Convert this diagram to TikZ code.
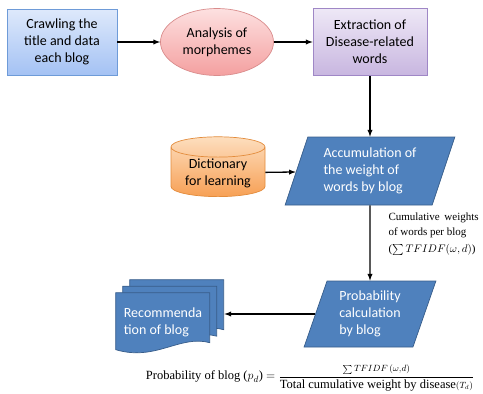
\documentclass[tikz,border=0pt]{standalone}
\usepackage{amsmath}
\usepackage{fontspec}
\setmainfont{Carlito}
\newfontfamily\annfont{Liberation Serif}
\usetikzlibrary{
  positioning, arrows, shapes.geometric
}
\definecolor{flowblue}{HTML}{4F81BD}
\definecolor{flowedge}{HTML}{385D8A}

\begin{document}
\begin{tikzpicture}[x=1pt,y=1pt,node distance=2cm,on grid,
    txt/.style={font=\fontsize{14}{17}\selectfont, align=center, line width=0.7pt},
    box/.style={txt, rectangle, minimum width=110pt, minimum height=66pt},
    io/.style={txt, trapezium, trapezium stretches=true,
      trapezium left angle=71, trapezium right angle=109,
      fill=flowblue, draw=flowedge, text=white, align=left},
    page/.style={fill=flowblue, draw=flowedge, line width=0.7pt},
    flow/.style={-latex, line width=1.3pt},
    note/.style={font=\annfont\fontsize{11}{15}\selectfont, align=left}]
  \useasboundingbox (0,0) rectangle (483,-394);

  \node[box, top color={rgb,255:red,222;green,233;blue,251},
    bottom color={rgb,255:red,164;green,194;blue,244},
    draw={rgb,255:red,110;green,155;blue,216}] (crawl) at (62,-42)
    {Crawling the\\title and data\\each blog};
  \node[txt, ellipse, minimum width=113pt, minimum height=67pt,
    top color={rgb,255:red,253;green,224;blue,224},
    bottom color={rgb,255:red,244;green,160;blue,160},
    draw={rgb,255:red,217;green,140;blue,140}] (morph) [right=155pt of crawl]
    {Analysis of\\morphemes};
  \node[box, minimum width=114pt, minimum height=67pt,
    top color={rgb,255:red,238;green,232;blue,246},
    bottom color={rgb,255:red,200;green,182;blue,224},
    draw={rgb,255:red,159;green,135;blue,198}] (extract) [right=153pt of morph]
    {Extraction of\\Disease-related\\words};

  \node[io, minimum width=170pt, minimum height=68pt] (accum) [below=129pt of extract]
    {Accumulation of\\the weight of\\words by blog};
  \node[txt, cylinder, shape border rotate=90, aspect=0.3,
    minimum width=94pt, minimum height=59pt, inner sep=1pt,
    top color={rgb,255:red,253;green,222;blue,190},
    bottom color={rgb,255:red,247;green,160;blue,85},
    draw={rgb,255:red,227;green,140;blue,60}] (dict) [below left=2pt and 152pt of accum]
    {Dictionary\\for learning};

  \node[io, minimum width=132pt, minimum height=66pt] (prob) [below=143pt of accum]
    {Probability\\calculation\\by blog};

  % stacked pages for the recommendation
  \node[txt, minimum width=94pt, minimum height=50pt, text=white, align=left]
    (rec) [below left=4pt and 207pt of prob] {};
  \draw[page] ([xshift=14pt,yshift=13pt]rec.north west) -- ++(94,0) -- ++(0,-50)
    .. controls +(-30,8) and +(40,-12) .. ++(-94,-7) -- cycle;
  \draw[page] ([xshift=7pt,yshift=6.5pt]rec.north west) -- ++(94,0) -- ++(0,-50)
    .. controls +(-30,8) and +(40,-12) .. ++(-94,-7) -- cycle;
  \draw[page] (rec.north west) -- ++(94,0) -- ++(0,-50)
    .. controls +(-30,8) and +(40,-12) .. ++(-94,-7) -- cycle;
  \node[txt, text=white, align=left] at ([yshift=-4pt]rec.center) {Recommenda\\tion of blog};
  \coordinate (recin) at ([xshift=14pt]rec.east);

  \node[note, anchor=west] (weights) at (385,-234)
    {Cumulative\, weights\\of words per blog\\[2pt]($\sum TFIDF(\omega,d)$)};
  \node[note, font=\annfont\fontsize{12.5}{14}\selectfont] (formula) at (310,-378)
    {Probability of blog ($p_d$) $=\dfrac{\scriptstyle\sum TFIDF\,(\omega,d)}
    {\text{\annfont Total cumulative weight by disease}\scriptstyle(T_d)}$};

  \draw[flow] (crawl) -- (morph);
  \draw[flow] (morph) -- (extract);
  \draw[flow] (extract) -- (accum);
  \draw[flow] (dict) -- (accum);
  \draw[flow] (accum) -- (prob);
  \draw[flow] (prob.west) -- (prob.west -| recin);
\end{tikzpicture}
\end{document}
